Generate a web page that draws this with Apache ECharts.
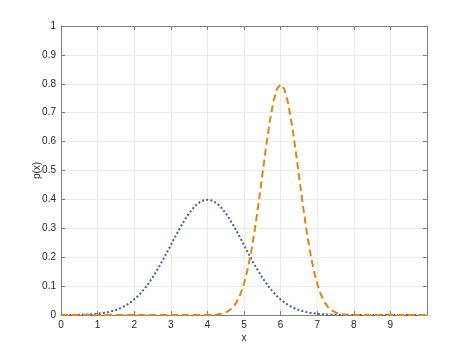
<!DOCTYPE html>
<html>
<head>
<meta charset="utf-8">
<script src="https://cdn.jsdelivr.net/npm/echarts@6/dist/echarts.min.js"></script>
<style>html,body{margin:0;padding:0;background:#fff}#c{width:472px;height:354px}</style>
</head>
<body>
<div id="c"></div>
<script>
// sampling grid x (0 .. 10 step 0.1)
var xs = [0,0.1,0.2,0.3,0.4,0.5,0.6,0.7,0.8,0.9,
  1,1.1,1.2,1.3,1.4,1.5,1.6,1.7,1.8,1.9,
  2,2.1,2.2,2.3,2.4,2.5,2.6,2.7,2.8,2.9,
  3,3.1,3.2,3.3,3.4,3.5,3.6,3.7,3.8,3.9,
  4,4.1,4.2,4.3,4.4,4.5,4.6,4.7,4.8,4.9,
  5,5.1,5.2,5.3,5.4,5.5,5.6,5.7,5.8,5.9,
  6,6.1,6.2,6.3,6.4,6.5,6.6,6.7,6.8,6.9,
  7,7.1,7.2,7.3,7.4,7.5,7.6,7.7,7.8,7.9,
  8,8.1,8.2,8.3,8.4,8.5,8.6,8.7,8.8,8.9,
  9,9.1,9.2,9.3,9.4,9.5,9.6,9.7,9.8,9.9,10];

// blue dotted curve p(x)
var pBlue = [0.0001,0.0002,0.0003,0.0004,0.0006,0.0009,0.0012,0.0017,0.0024,0.0033,
  0.0044,0.0060,0.0079,0.0104,0.0136,0.0175,0.0224,0.0283,0.0355,0.0440,
  0.0540,0.0656,0.0790,0.0940,0.1109,0.1295,0.1497,0.1714,0.1942,0.2179,
  0.2420,0.2661,0.2897,0.3123,0.3332,0.3521,0.3683,0.3814,0.3910,0.3970,
  0.3989,0.3970,0.3910,0.3814,0.3683,0.3521,0.3332,0.3123,0.2897,0.2661,
  0.2420,0.2179,0.1942,0.1714,0.1497,0.1295,0.1109,0.0940,0.0790,0.0656,
  0.0540,0.0440,0.0355,0.0283,0.0224,0.0175,0.0136,0.0104,0.0079,0.0060,
  0.0044,0.0033,0.0024,0.0017,0.0012,0.0009,0.0006,0.0004,0.0003,0.0002,
  0.0001,0.0001,0.0001,0,0,0,0,0,0,0,
  0,0,0,0,0,0,0,0,0,0,0];

// orange dashed curve p(x)
var pOrange = [0,0,0,0,0,0,0,0,0,0,
  0,0,0,0,0,0,0,0,0,0,
  0,0,0,0,0,0,0,0,0,0,
  0,0,0,0,0,0,0,0,0,0.0001,
  0.0003,0.0006,0.0012,0.0025,0.0048,0.0089,0.0158,0.0272,0.0448,0.0710,
  0.1080,0.1579,0.2218,0.2995,0.3884,0.4839,0.5793,0.6664,0.7365,0.7821,
  0.7979,0.7821,0.7365,0.6664,0.5793,0.4839,0.3884,0.2995,0.2218,0.1579,
  0.1080,0.0710,0.0448,0.0272,0.0158,0.0089,0.0048,0.0025,0.0012,0.0006,
  0.0003,0.0001,0,0,0,0,0,0,0,0,
  0,0,0,0,0,0,0,0,0,0,0];

var xTickLabels = ['0','1','2','3','4','5','6','7','8','9'];
var yTickLabels = ['0','0.1','0.2','0.3','0.4','0.5','0.6','0.7','0.8','0.9','1'];

function pairs(ys){ return xs.map(function(x,i){ return [x, ys[i]]; }); }

var FONT = 'Liberation Sans, Arial, Helvetica, sans-serif';
var AX = '#7f7f7f';
var TXT = '#262626';

var chart = echarts.init(document.getElementById('c'), null, {renderer:'canvas'});
chart.setOption({
  animation: false,
  backgroundColor: '#ffffff',
  grid: {left: 61, right: 45, top: 26, bottom: 39, containLabel: false},
  xAxis: [{
    type: 'value', min: 0, max: 10, interval: 1, position: 'bottom',
    name: 'x', nameLocation: 'middle', nameGap: 18, nameMoveOverlap: false,
    nameTextStyle: {color: TXT, fontSize: 10, fontFamily: FONT},
    axisLine: {show: true, onZero: false, lineStyle: {color: AX, width: 1}},
    axisTick: {show: true, inside: true, length: 4, lineStyle: {color: AX}},
    axisLabel: {color: TXT, fontSize: 10, fontFamily: FONT, margin: 5,
      formatter: function(v){ var i = Math.round(v); return i < xTickLabels.length ? xTickLabels[i] : ''; }},
    splitLine: {show: true, lineStyle: {color: '#ebebeb', width: 1}}
  }, {
    type: 'value', min: 0, max: 10, interval: 1, position: 'top',
    axisLine: {show: true, onZero: false, lineStyle: {color: AX, width: 1}},
    axisTick: {show: true, inside: true, length: 4, lineStyle: {color: AX}},
    axisLabel: {show: false}, splitLine: {show: false}
  }],
  yAxis: [{
    type: 'value', min: 0, max: 1, interval: 0.1, position: 'left',
    name: 'p(x)', nameLocation: 'middle', nameGap: 19, nameRotate: 90, nameMoveOverlap: false,
    nameTextStyle: {color: TXT, fontSize: 10, fontFamily: FONT},
    axisLine: {show: true, onZero: false, lineStyle: {color: AX, width: 1}},
    axisTick: {show: true, inside: true, length: 4, lineStyle: {color: AX}},
    axisLabel: {color: TXT, fontSize: 10, fontFamily: FONT, margin: 5,
      formatter: function(v){ var i = Math.round(v*10); return yTickLabels[i]; }},
    splitLine: {show: true, lineStyle: {color: '#ebebeb', width: 1}}
  }, {
    type: 'value', min: 0, max: 1, interval: 0.1, position: 'right',
    axisLine: {show: true, onZero: false, lineStyle: {color: AX, width: 1}},
    axisTick: {show: true, inside: true, length: 4, lineStyle: {color: AX}},
    axisLabel: {show: false}, splitLine: {show: false}
  }],
  series: [{
    type: 'line', xAxisIndex: 0, yAxisIndex: 0, data: pairs(pBlue),
    showSymbol: false, smooth: false, clip: true,
    lineStyle: {color: '#3f60a6', width: 2, type: [2, 2.2]},
    z: 3
  }, {
    type: 'line', xAxisIndex: 0, yAxisIndex: 0, data: pairs(pOrange),
    showSymbol: false, smooth: false, clip: true,
    lineStyle: {color: '#e8820c', width: 2, type: [7, 4]},
    z: 4
  }]
});
</script>
</body>
</html>
